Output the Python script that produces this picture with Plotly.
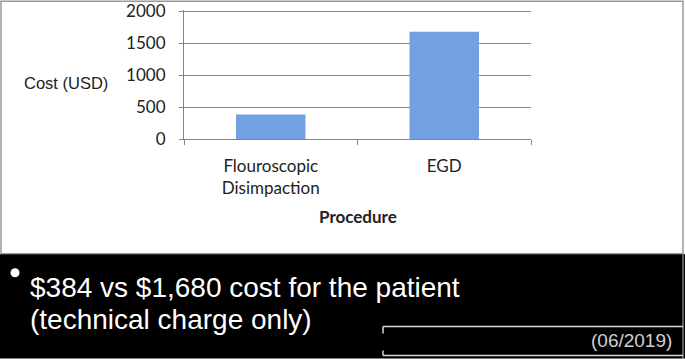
import plotly.graph_objects as go

# ---- data ----
categories = ["Flouroscopic<br>Disimpaction", "EGD"]
costs = [384, 1680]
y_ticks = [0, 500, 1000, 1500, 2000]
y_tick_labels = ["0", "500", "1000", "1500", "2000"]
x_title = "Procedure"
y_title = "Cost (USD)"
line1 = "$384 vs $1,680 cost for the patient"
line2 = "(technical charge only)"
date_text = "(06/2019)"

W, H = 685, 359
Y_MAX = 2020
PX_PER_UNIT = 128 / 2000
L, R, B = 184, 531, 139
T = 11 - (Y_MAX - 2000) * PX_PER_UNIT  # plot top so that 2000 sits at y=11


def px(x):
    return (x - L) / (R - L)


def py(y):
    return (B - y) / (B - T)


fig = go.Figure()
fig.add_trace(go.Bar(
    x=categories, y=costs,
    marker=dict(color="#72a0e2", line=dict(width=0)),
))

grid = "#858585"
fig.update_layout(
    width=W, height=H,
    margin=dict(l=L, r=W - R, t=T, b=H - B, autoexpand=False),
    paper_bgcolor="white", plot_bgcolor="white",
    bargap=0.6, showlegend=False,
    font=dict(family="Lato", size=17, color="#222"),
)
fig.update_xaxes(
    automargin=False,
    showline=True, linecolor=grid, linewidth=1.2,
    ticks="outside", tickson="boundaries", ticklen=5, tickcolor=grid, tickwidth=1.2,
    showgrid=False, tickfont=dict(family="Lato", size=17, color="#222"),
    ticklabelstandoff=11,
)
fig.update_yaxes(
    automargin=False,
    range=[0, Y_MAX], tickvals=y_ticks, ticktext=y_tick_labels,
    showgrid=True, gridcolor=grid, gridwidth=1.2,
    showline=True, linecolor=grid, linewidth=1.2, zeroline=False,
    ticks="outside", ticklen=4, tickcolor=grid, tickwidth=1.2,
    tickfont=dict(family="Lato", size=17, color="#222"),
    ticklabelstandoff=10, ticklabeloverflow="allow",
)

shapes = []
# white panel border
shapes.append(dict(type="rect", xref="paper", yref="paper",
                   x0=px(1), x1=px(683), y0=py(1), y1=py(254),
                   line=dict(color="#999", width=1.5), fillcolor="rgba(0,0,0,0)"))
# black bottom band
shapes.append(dict(type="rect", xref="paper", yref="paper",
                   x0=px(0), x1=px(685), y0=py(254.5), y1=py(359),
                   line=dict(width=0), fillcolor="black"))
# right edge line in black band
shapes.append(dict(type="line", xref="paper", yref="paper",
                   x0=px(683), x1=px(683), y0=py(255), y1=py(359),
                   line=dict(color="#bbb", width=1)))
# bullet
shapes.append(dict(type="circle", xref="paper", yref="paper",
                   x0=px(10.5), x1=px(19.5), y0=py(268.5), y1=py(277.5),
                   line=dict(width=0), fillcolor="white"))
# white rules near date
lc = "#d8d8d8"
for (x0, y0, x1, y1) in [(383, 327, 683, 327), (383, 327, 383, 334),
                         (383, 356, 683, 356), (383, 351, 383, 356)]:
    shapes.append(dict(type="line", xref="paper", yref="paper",
                       x0=px(x0), x1=px(x1), y0=py(y0), y1=py(y1),
                       line=dict(color=lc, width=1.5)))
fig.update_layout(shapes=shapes)

ann = [
    dict(text=y_title, x=px(65.5), y=py(83), xanchor="center", yanchor="middle",
         font=dict(family="Liberation Sans", size=16.5, color="#222")),
    dict(text="<b>" + x_title + "</b>", x=px(357.5), y=py(217), xanchor="center", yanchor="middle",
         font=dict(family="Lato", size=17, color="#222")),
    dict(text=line1, x=px(28), y=py(288), xanchor="left", yanchor="middle",
         font=dict(family="Liberation Sans", size=28, color="white")),
    dict(text=line2, x=px(28), y=py(320), xanchor="left", yanchor="middle",
         font=dict(family="Liberation Sans", size=28, color="white")),
    dict(text=date_text, x=px(674), y=py(341), xanchor="right", yanchor="middle",
         font=dict(family="Liberation Sans", size=19, color="#d0d0d0")),
]
for a in ann:
    a.update(xref="paper", yref="paper", showarrow=False)
fig.update_layout(annotations=ann)

fig.write_html("out.html", config={"displayModeBar": False},
               post_script="document.body.style.margin='0';document.body.style.overflow='hidden';")
